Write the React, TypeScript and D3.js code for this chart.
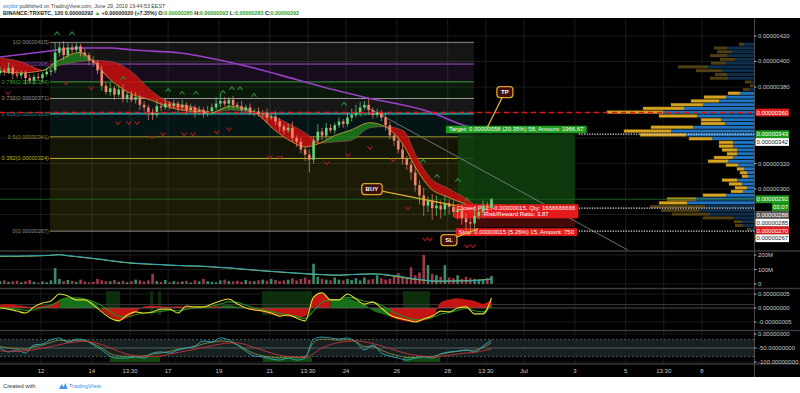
import React, { useEffect, useRef } from "react";
import * as d3 from "d3";

const FONT = "'Liberation Sans', Arial, sans-serif";

// prices in satoshi (1e-8 BTC), time in days from Jun 12 00:00
const candleStart = -1.61;
const candleStep = 1 / 6;
const firstOpen = 391;
const closes = [
  393, 392, 395, 390, 389, 391, 387, 385, 388, 387,
  390, 392, 393, 407, 411, 405, 411, 409, 412, 407,
  405, 401, 399, 393, 381, 376, 379, 374, 378, 371,
  374, 370, 372, 366, 364, 360, 358, 365, 364, 367,
  365, 367, 364, 366, 362, 364, 360, 362, 359, 361,
  364, 367, 369, 367, 370, 366, 365, 362, 364, 360,
  361, 359, 360, 356, 357, 353, 349, 346, 348, 340,
  337, 331, 327, 323, 338, 345, 342, 348, 346, 350,
  353, 351, 356, 358, 360, 364, 366, 362, 358, 360,
  356, 350, 342, 338, 331, 324, 319, 313, 303, 295,
  287, 291, 285, 287, 284, 289, 286, 282, 284, 277,
  274, 273, 279, 282, 287, 285, 292,
];
const wickUp = [
  3, 2, 4, 2, 3, 2, 2, 3, 2, 3, 2, 3, 2, 8, 4, 5, 4, 3, 3, 2,
  3, 2, 3, 2, 4, 3, 5, 2, 3, 4, 2, 3, 4, 2, 3, 2, 3, 5, 3, 4,
  2, 3, 2, 4, 2, 3, 2, 3, 2, 4, 3, 5, 6, 3, 2, 3, 2, 4, 2, 3,
  2, 3, 2, 3, 2, 4, 3, 2, 3, 5, 2, 3, 2, 4, 3, 6, 3, 4, 3, 2,
  3, 2, 4, 5, 6, 4, 3, 5, 2, 3, 2, 4, 3, 2, 3, 4, 2, 3, 5, 4,
  6, 3, 5, 8, 4, 6, 3, 5, 4, 3, 4, 3, 5, 3, 4, 3, 1,
];
const wickDn = [
  2, 3, 2, 4, 2, 3, 5, 2, 3, 2, 3, 2, 3, 2, 3, 4, 2, 3, 2, 3,
  2, 4, 3, 3, 4, 2, 3, 4, 2, 3, 3, 2, 3, 4, 3, 6, 4, 2, 3, 2,
  3, 2, 4, 2, 3, 2, 4, 2, 3, 2, 3, 2, 3, 2, 4, 3, 2, 3, 3, 2,
  3, 2, 3, 4, 2, 3, 4, 3, 2, 3, 4, 3, 5, 10, 3, 2, 4, 3, 2, 3,
  2, 3, 2, 3, 2, 3, 2, 4, 3, 2, 3, 4, 3, 4, 3, 5, 4, 6, 5, 7,
  8, 5, 9, 6, 7, 5, 6, 4, 6, 5, 7, 6, 4, 3, 4, 3, 2,
];
// volume in millions
const volumes = [
  20, 25, 15, 18, 22, 12, 20, 28, 15, 10, 18, 12, 25, 110, 35, 20, 28, 22, 15, 30,
  18, 12, 15, 35, 25, 20, 18, 28, 15, 22, 12, 20, 30, 25, 18, 25, 70, 20, 15, 28,
  12, 20, 15, 18, 22, 10, 25, 18, 35, 20, 15, 12, 25, 30, 20, 18, 22, 15, 28, 20,
  18, 25, 30, 22, 35, 28, 20, 25, 30, 40, 25, 35, 45, 30, 140, 50, 35, 30, 25, 45,
  30, 25, 35, 28, 40, 25, 45, 30, 35, 60, 40, 30, 35, 50, 75, 45, 40, 115, 60, 80,
  200, 130, 70, 60, 50, 130, 45, 40, 60, 35, 50, 40, 35, 30, 25, 40, 55,
];

const maDays = [-1.61, 0.35, 1.42, 2.71, 3.62, 5.47, 8.22, 10.11, 11.57, 12.67, 15.3, 16.6, 17.72];
const ma200 = [403.5, 408.2, 410.6, 410.6, 409, 406.7, 395.7, 385.5, 377.6, 372.2, 360.4, 350.2, 343.9];

const cloudDays = [
  -1.61, -0.83, 0.08, 0.55, 1.53, 2.01, 2.71, 3.62, 4.29, 5.07, 5.86, 6.73, 7.44, 8.42, 9.21,
  9.87, 10.39, 10.98, 11.57, 12.16, 12.94, 13.53, 14.24, 14.79, 15.3, 15.97, 16.6, 17.27, 17.74,
];
const fastMa = [
  392, 391, 393, 399, 407, 401, 386, 374, 370, 364, 361, 360, 365, 360, 346,
  337, 333, 336, 342, 346, 352, 349, 335, 315, 301, 294, 289, 285, 284,
];
const slowMa = [
  403, 400, 393, 396, 400, 401, 400, 391, 378, 368, 365, 360, 362, 360, 356,
  350, 344, 336, 337, 338, 348, 349, 346, 325, 309, 301, 294, 285, 282,
];

const fibRatios = ["1", "0.886", "0.786", "0.702", "0.618", "0.5", "0.382", "0"];
const fibPrices = [415, 398, 384, 371, 359, 341, 324, 267];
const fibColors = ["#8c8c8c", "#9b4ec6", "#3ba33b", "#9a9a9a", "#1f9090", "#8f8f2c", "#b8b826", "#8c8c8c"];
const fibDays = [0.35, 17.03];

const vpTop = 415;
const vpBottom = 267;
const vpBlue = [
  10, 27, 22, 27, 19, 28, 46, 32, 27, 26, 3, 1, 5, 14, 28, 35, 51, 70, 91, 57,
  33, 29, 61, 83, 68, 42, 21, 21, 17, 17, 21, 26, 16, 10, 7, 6, 17, 12, 7, 11,
  28, 58, 67, 49, 55, 44, 21, 12, 11, 4,
];
const vpOrange = [
  5, 13, 15, 17, 15, 15, 30, 26, 12, 18, 6, 3, 6, 12, 22, 28, 32, 41, 56, 38,
  20, 24, 42, 47, 46, 23, 14, 14, 15, 10, 19, 20, 12, 7, 7, 6, 15, 13, 12, 12,
  23, 29, 28, 55, 38, 38, 30, 8, 8, 3,
];
const vpValueArea = [13, 42];

const posDays = [16.4, 21.0];
const posEntry = 285;
const posTarget = 343;
const posStop = 270;
const targetText = "Target: 0.00000058 (20.35%) 58, Amount: 1966.67";
const closedText = ["Closed P&L: -0.00000015, Qty: 1666666666", "Risk/Reward Ratio: 3.87"];
const stopText = "Stop: 0.00000015 (5.26%) 15, Amount: 750";

const calloutText = ["BUY", "TP", "SL"];
const calloutDay = [13.02, 18.25, 16.05];
const calloutPrice = [300, 376, 260];
const calloutTipDay = [16.29, 17.55, 17.19];
const calloutTipPrice = [287, 348, 269];

const trendDays = [12.75, 23.1];
const trendPrices = [365, 252];
const redLinePrice = 360;
const dottedPrices = [343, 285, 267];
const lastPrice = 292;

const upDays = [0.63, 1.22, 3.23, 5.0, 5.55, 6.1, 7.16, 7.51, 7.83, 8.38, 11.92, 12.67, 15.03, 15.58, 16.4, 16.76];
const upPrices = [422, 422, 387, 377.6, 375.3, 375.3, 376, 379, 379, 373.7, 366.7, 358.8, 322, 310.2, 307, 292];
const dnDays = [-1.3, 0.98, 1.97, 3.03, 3.46, 3.78, 4.37, 4.8, 5.63, 5.98, 6.92, 7.4, 9.01, 9.4, 11.25, 12.08, 12.94, 13.85, 14.44, 15.11, 15.3, 16.76, 17.0];
const dnPrices = [375.3, 383.1, 379.2, 351.8, 351.8, 351.8, 340.8, 343.1, 343.1, 343.1, 344.7, 347, 325.1, 325.1, 320.4, 326.7, 332.2, 322.7, 285.1, 260.8, 260.8, 255.3, 255.3];

const priceTicks = [420, 400, 380, 360, 340, 320, 300, 280];
const timeTickDays = [0, 2, 3.5, 5, 7, 9, 10.5, 12, 14, 16, 17.5, 19, 21, 23, 24.5, 26];
const timeTickLabels = ["12", "14", "13:30", "17", "19", "21", "13:30", "24", "26", "28", "13:30", "Jul", "3", "5", "13:30", "8"];

const axisBoxPrices = [360, 343, 342, 292, 292, 288, 285, 270, 267];
const axisBoxTexts = ["", "", "", "", "03:07", "", "", "", ""];
const axisBoxBg = ["#e31c1c", "#1c9a1c", "#ffffff", "#1c9a1c", "#1c9a1c", "#555555", "#ffffff", "#e31c1c", "#ffffff"];
const axisBoxFg = ["#fff", "#fff", "#222", "#fff", "#fff", "#fff", "#222", "#fff", "#222"];

// indicator panes sampled every 8 hours
const indStart = -1.61;
const indStep = 1 / 3;
const volLineA = [
  193, 193, 193, 194, 195, 196, 199, 201, 196, 190, 184, 177, 171, 162, 155, 148, 144, 140, 137, 134,
  131, 128, 126, 125, 123, 119, 115, 112, 107, 102, 97, 92, 88, 84, 80, 76, 72, 69, 66, 63,
  62, 64, 66, 67, 68, 68, 62, 55, 45, 35, 28, 22, 21, 21, 21, 21, 23, 27, 32,
];
const volLineB = [
  190, 191, 190, 192, 193, 195, 197, 203, 194, 188, 181, 175, 168, 160, 152, 146, 141, 138, 135, 133,
  129, 127, 125, 123, 121, 117, 113, 110, 105, 100, 95, 90, 86, 82, 78, 74, 70, 66, 64, 61,
  60, 63, 67, 69, 70, 66, 58, 50, 40, 32, 26, 20, 19, 20, 22, 22, 25, 29, 35,
];
// MACD in 1e-9
const macdLine = [
  0, -4, -11, -18, 4, 18, 25, 50, 43, 29, 29, 11, -14, -36, -46, -25, -14, -18, -14, -4,
  -4, -18, 7, 4, 4, 14, 25, 32, 14, 0, -7, -11, -18, -29, -25, -36, -46, 39, 54, 29,
  29, 50, 32, 14, 21, 0, -25, -36, -43, -50, -39, -29, -11, -14, 0, 4, -21, -21, 36,
];
const signalLine = [
  2, 0, -4, -8, -6, 2, 10, 25, 35, 36, 32, 22, 8, -12, -30, -32, -24, -18, -16, -12,
  -8, -10, -4, 0, 2, 6, 14, 22, 20, 10, 0, -6, -12, -20, -24, -30, -38, -10, 20, 30,
  30, 38, 34, 24, 20, 10, -8, -22, -34, -42, -40, -34, -22, -16, -8, -2, -10, -14, 10,
];
const macdHist = [
  12, 14, 10, 6, 4, 8, 10, 30, 38, 32, 28, 20, -10, -30, -45, -35, -15, 5, 8, 6,
  4, 6, 4, 4, 4, 4, 8, 10, 5, 0, -8, -14, -22, -26, -30, -34, -30, 40, 50, 30,
  30, 35, 25, 15, -10, -20, -30, -42, -48, -50, -45, -35, 20, 30, 35, 30, 25, 15, 30,
];
const histColors = "rrrrrrrgggggrrrrrrrrrrrrrrgggrrrrrrrrrrgggggggrrrrrrrrrrrrr";
const macdShadeFrom = [2.56, 4.29, 4.6, 8.69, 14.24];
const macdShadeTo = [3.11, 4.41, 4.72, 10.66, 15.3];

const rsiFast = [
  -50, -64, -57, -68, -39, -36, -21, -14, -29, -18, -21, -39, -57, -79, -86, -86, -82, -86, -68, -64,
  -68, -57, -50, -43, -25, -29, -14, -21, -39, -61, -79, -82, -89, -93, -86, -93, -86, -18, -11, -14,
  -18, -14, -29, -57, -39, -68, -79, -86, -93, -86, -82, -86, -71, -64, -61, -57, -64, -43, -21,
];
const rsiSlow = [
  -45, -50, -52, -55, -45, -40, -30, -22, -25, -24, -25, -35, -50, -70, -78, -80, -80, -78, -72, -68,
  -62, -55, -50, -45, -35, -30, -25, -28, -38, -55, -70, -78, -82, -85, -82, -84, -80, -30, -18, -20,
  -22, -20, -28, -45, -45, -58, -70, -78, -84, -84, -80, -80, -72, -66, -62, -58, -58, -48, -30,
];
const rsiSignal = [
  -60, -62, -62, -60, -56, -50, -45, -38, -32, -28, -26, -30, -38, -50, -62, -72, -78, -80, -80, -78,
  -72, -66, -60, -54, -48, -42, -36, -32, -32, -38, -48, -58, -68, -76, -80, -82, -84, -70, -50, -38,
  -30, -26, -24, -28, -34, -42, -52, -62, -70, -76, -80, -82, -80, -76, -72, -68, -66, -60, -54,
];
const rsiShadeFrom = [2.71, 8.73, 14.24];
const rsiShadeTo = [4.68, 10.66, 15.7];

const fmt = (v: number) => (v / 1e8).toFixed(8);

export default function App() {
  const ref = useRef<SVGSVGElement>(null);

  useEffect(() => {
    const svg = d3.select(ref.current);
    svg.selectAll("*").remove();

    const axisX = 754;
    const x = d3.scaleLinear().domain([-1.613, 28.05]).range([0, axisX]);
    const y = d3.scaleLinear().domain([252.2, 434.1]).range([250, 18]);
    const volY = d3.scaleLinear().domain([0, 200]).range([284, 255]);
    const macdY = d3.scaleLinear().domain([-50, 50]).range([322, 294]);
    const rsiY = d3.scaleLinear().domain([-100, 0]).range([362, 334]);
    const vpX = d3.scaleLinear().domain([0, 150]).range([axisX, axisX - 150]);

    svg.append("rect").attr("width", 800).attr("height", 393).attr("fill", "#fff");
    svg.append("rect").attr("y", 18).attr("width", 800).attr("height", 359).attr("fill", "#000");

    const defs = svg.append("defs");
    const clip = (id: string, top: number, bottom: number) =>
      defs.append("clipPath").attr("id", id).append("rect")
        .attr("x", 0).attr("y", top).attr("width", axisX).attr("height", bottom - top);
    clip("cMain", 18, 250);
    clip("cVol", 252, 288);
    clip("cMacd", 289, 330);
    clip("cRsi", 331, 364);

    // grid
    const grid = svg.append("g").attr("stroke", "#1b1b1b").attr("stroke-width", 1);
    timeTickDays.forEach(d => {
      grid.append("line").attr("x1", x(d)).attr("x2", x(d)).attr("y1", 18).attr("y2", 364);
    });
    priceTicks.forEach(p => {
      grid.append("line").attr("x1", 0).attr("x2", axisX).attr("y1", y(p)).attr("y2", y(p));
    });
    [0, 100, 200].forEach(v => grid.append("line").attr("x1", 0).attr("x2", axisX).attr("y1", volY(v)).attr("y2", volY(v)));
    [-50, 50].forEach(v => grid.append("line").attr("x1", 0).attr("x2", axisX).attr("y1", macdY(v)).attr("y2", macdY(v)));
    [-100, 0].forEach(v => grid.append("line").attr("x1", 0).attr("x2", axisX).attr("y1", rsiY(v)).attr("y2", rsiY(v)));

    const main = svg.append("g").attr("clip-path", "url(#cMain)");

    // fib retracement
    const fx0 = x(fibDays[0]);
    const fx1 = x(fibDays[1]);
    for (let i = 0; i < fibPrices.length - 1; i++) {
      main.append("rect").attr("x", fx0).attr("width", fx1 - fx0)
        .attr("y", y(fibPrices[i])).attr("height", y(fibPrices[i + 1]) - y(fibPrices[i]))
        .attr("fill", fibColors[i]).attr("opacity", 0.15);
    }

    // volume profile
    const rowH = (vpTop - vpBottom) / vpBlue.length;
    vpBlue.forEach((b, i) => {
      const bright = i >= vpValueArea[0] && i <= vpValueArea[1];
      const y0 = y(vpTop - i * rowH) + 0.4;
      const h = y(vpTop - (i + 1) * rowH) - y(vpTop - i * rowH) - 0.8;
      main.append("rect").attr("x", vpX(b)).attr("width", axisX - vpX(b)).attr("y", y0).attr("height", h)
        .attr("fill", bright ? "#1f74c2" : "#0e2f4d");
      main.append("rect").attr("x", vpX(b + vpOrange[i])).attr("width", vpX(b) - vpX(b + vpOrange[i]))
        .attr("y", y0).attr("height", h)
        .attr("fill", bright ? "#d6a323" : "#4f3f12").attr("stroke", bright ? "#8a6a12" : "none").attr("stroke-width", 0.4);
    });

    fibPrices.forEach((p, i) => {
      main.append("line").attr("x1", fx0).attr("x2", fx1).attr("y1", y(p)).attr("y2", y(p))
        .attr("stroke", fibColors[i]).attr("stroke-width", fibRatios[i] === "0.618" ? 2 : 1);
      main.append("text").attr("x", fx0 - 1).attr("y", y(p) + 2).attr("text-anchor", "end")
        .attr("font-family", FONT).attr("font-size", 5.6).attr("fill", fibColors[i])
        .text(`${fibRatios[i]}(${fmt(p)})`);
    });

    // long position zones
    const px0 = x(posDays[0]);
    const px1 = x(posDays[1]);
    main.append("rect").attr("x", px0).attr("width", px1 - px0).attr("y", y(posTarget))
      .attr("height", y(posEntry) - y(posTarget)).attr("fill", "#0e420e").attr("opacity", 0.85);
    main.append("rect").attr("x", px0).attr("width", px1 - px0).attr("y", y(posEntry))
      .attr("height", y(posStop) - y(posEntry)).attr("fill", "#4a0b0b").attr("opacity", 0.9);

    // last price line
    main.append("line").attr("x1", 0).attr("x2", axisX).attr("y1", y(lastPrice)).attr("y2", y(lastPrice))
      .attr("stroke", "#1c5a1c").attr("stroke-width", 1);

    // long MA
    main.append("path").datum(maDays.map((d, i) => [d, ma200[i]]))
      .attr("fill", "none").attr("stroke", "#9b3fc6").attr("stroke-width", 1.6)
      .attr("d", d3.line<number[]>().x(p => x(p[0])).y(p => y(p[1])).curve(d3.curveMonotoneX));

    // MA cloud, split at crossings
    type Seg = { pos: boolean; pts: number[][] };
    const segs: Seg[] = [];
    let cur: Seg | null = null;
    for (let i = 0; i < cloudDays.length; i++) {
      const d = fastMa[i] - slowMa[i];
      const pos = d > 0 ? true : d < 0 ? false : cur ? cur.pos : false;
      if (!cur) {
        cur = { pos, pts: [] };
        segs.push(cur);
      } else if (pos !== cur.pos) {
        const j = i - 1;
        const d0 = fastMa[j] - slowMa[j];
        const t = d0 / (d0 - d);
        const cd = cloudDays[j] + t * (cloudDays[i] - cloudDays[j]);
        const cp = fastMa[j] + t * (fastMa[i] - fastMa[j]);
        cur.pts.push([cd, cp, cp]);
        cur = { pos, pts: [[cd, cp, cp]] };
        segs.push(cur);
      }
      cur.pts.push([cloudDays[i], fastMa[i], slowMa[i]]);
    }
    const cloudArea = d3.area<number[]>().x(p => x(p[0])).y0(p => y(p[1])).y1(p => y(p[2])).curve(d3.curveMonotoneX);
    segs.forEach(s => {
      main.append("path").attr("d", cloudArea(s.pts)).attr("fill", s.pos ? "#1b7a1b" : "#c40f0f").attr("opacity", 0.88);
    });
    const maLine = (vals: number[]) =>
      d3.line<number>().x((_, i) => x(cloudDays[i])).y(v => y(v)).curve(d3.curveMonotoneX)(vals);
    main.append("path").attr("d", maLine(slowMa)).attr("fill", "none").attr("stroke", "#9c5a5a").attr("stroke-width", 0.6);
    main.append("path").attr("d", maLine(fastMa)).attr("fill", "none").attr("stroke", "#d9a441").attr("stroke-width", 0.8);

    // trend line
    main.append("line").attr("x1", x(trendDays[0])).attr("y1", y(trendPrices[0]))
      .attr("x2", x(trendDays[1])).attr("y2", y(trendPrices[1])).attr("stroke", "#8a8a8a").attr("stroke-width", 0.8);

    // position labels
    const pcx = (px0 + px1) / 2;
    const labelBox = (lines: string[], top: number, bg: string) => {
      const g = main.append("g");
      const rect = g.append("rect").attr("fill", bg).attr("rx", 1);
      let w = 0;
      lines.forEach((t, i) => {
        const tx = g.append("text").attr("x", pcx).attr("y", top + 5.6 + i * 6.6).attr("text-anchor", "middle")
          .attr("font-family", FONT).attr("font-size", 6).attr("fill", "#fff").text(t);
        w = Math.max(w, (tx.node() as SVGTextElement).getComputedTextLength());
      });
      rect.attr("x", pcx - w / 2 - 3).attr("width", w + 6).attr("y", top).attr("height", lines.length * 6.6 + 1);
    };
    labelBox([targetText], y(posTarget) - 8.5, "#1e9e1e");
    labelBox(closedText, y(posEntry) - 4, "#e31b1b");
    labelBox([stopText], y(posStop) + 1, "#e31b1b");

    // candles
    const bw = 2.6;
    closes.forEach((c, i) => {
      const o = i === 0 ? firstOpen : closes[i - 1];
      const hi = Math.max(o, c) + wickUp[i];
      const lo = Math.min(o, c) - wickDn[i];
      const cx = x(candleStart + i * candleStep);
      const col = c >= o ? "#66d477" : "#f2856a";
      main.append("line").attr("x1", cx).attr("x2", cx).attr("y1", y(hi)).attr("y2", y(lo))
        .attr("stroke", col).attr("stroke-width", 0.7);
      main.append("rect").attr("x", cx - bw / 2).attr("width", bw)
        .attr("y", y(Math.max(o, c))).attr("height", Math.max(0.8, Math.abs(y(o) - y(c))))
        .attr("fill", col);
    });

    // signal chevrons
    upDays.forEach((d, i) => {
      const cx = x(d), cy = y(upPrices[i]);
      main.append("path").attr("d", `M${cx - 2.5},${cy + 1.5}L${cx},${cy - 1.5}L${cx + 2.5},${cy + 1.5}`)
        .attr("fill", "none").attr("stroke", "#2a8a3a").attr("stroke-width", 1.1);
    });
    dnDays.forEach((d, i) => {
      const cx = x(d), cy = y(dnPrices[i]);
      main.append("path").attr("d", `M${cx - 2.5},${cy - 1.5}L${cx},${cy + 1.5}L${cx + 2.5},${cy - 1.5}`)
        .attr("fill", "none").attr("stroke", "#a81c1c").attr("stroke-width", 1.1);
    });

    // horizontal lines
    main.append("line").attr("x1", 0).attr("x2", axisX).attr("y1", y(redLinePrice)).attr("y2", y(redLinePrice))
      .attr("stroke", "#e41414").attr("stroke-width", 1.4).attr("stroke-dasharray", "5,4");
    dottedPrices.forEach(p => {
      main.append("line").attr("x1", px1 + 4).attr("x2", axisX).attr("y1", y(p)).attr("y2", y(p))
        .attr("stroke", "#dcdcdc").attr("stroke-width", 1.3).attr("stroke-dasharray", "1.3,1.3");
    });

    // callouts
    calloutText.forEach((t, i) => {
      const bx = x(calloutDay[i]), by = y(calloutPrice[i]);
      main.append("line").attr("x1", bx).attr("y1", by).attr("x2", x(calloutTipDay[i])).attr("y2", y(calloutTipPrice[i]))
        .attr("stroke", "#dcb032").attr("stroke-width", 1.3);
      const w = t.length * 4.5 + 7;
      main.append("rect").attr("x", bx - w / 2).attr("y", by - 5.5).attr("width", w).attr("height", 11).attr("rx", 3)
        .attr("fill", "#3d0e0e").attr("stroke", "#d9a52a").attr("stroke-width", 1.3);
      main.append("text").attr("x", bx).attr("y", by + 2.2).attr("text-anchor", "middle")
        .attr("font-family", FONT).attr("font-size", 6).attr("font-weight", "bold").attr("fill", "#fff").text(t);
    });

    // volume pane
    const vol = svg.append("g").attr("clip-path", "url(#cVol)");
    volumes.forEach((v, i) => {
      const o = i === 0 ? firstOpen : closes[i - 1];
      const cx = x(candleStart + i * candleStep);
      vol.append("rect").attr("x", cx - bw / 2).attr("width", bw).attr("y", volY(v)).attr("height", volY(0) - volY(v))
        .attr("fill", closes[i] >= o ? "#3c8a6a" : "#9a3a4a");
    });
    const indLine = (sc: d3.ScaleLinear<number, number>) =>
      d3.line<number>().x((_, k) => x(indStart + k * indStep)).y(v => sc(v)).curve(d3.curveMonotoneX);
    vol.append("path").attr("d", indLine(volY)(volLineB)).attr("fill", "none").attr("stroke", "#a9c832").attr("stroke-width", 1);
    vol.append("path").attr("d", indLine(volY)(volLineA)).attr("fill", "none").attr("stroke", "#27a3c4").attr("stroke-width", 1);

    // MACD pane
    const macd = svg.append("g").attr("clip-path", "url(#cMacd)");
    macdShadeFrom.forEach((d, i) => {
      macd.append("rect").attr("x", x(d)).attr("width", x(macdShadeTo[i]) - x(d)).attr("y", macdY(60))
        .attr("height", macdY(-25) - macdY(60)).attr("fill", "#0f3a0f").attr("opacity", 0.8);
    });
    macd.append("line").attr("x1", 0).attr("x2", axisX).attr("y1", macdY(12)).attr("y2", macdY(12)).attr("stroke", "#3a3a3a");
    const histArea = d3.area<number>().x(k => x(indStart + k * indStep)).y0(macdY(0)).y1(k => macdY(macdHist[k])).curve(d3.curveMonotoneX);
    let runStart = 0;
    for (let k = 1; k <= macdHist.length; k++) {
      if (k === macdHist.length || histColors[k] !== histColors[runStart]) {
        const ks = d3.range(runStart, Math.min(k + 1, macdHist.length));
        macd.append("path").attr("d", histArea(ks)).attr("fill", histColors[runStart] === "g" ? "#17701a" : "#c41414");
        runStart = k;
      }
    }
    macd.append("line").attr("x1", 0).attr("x2", axisX).attr("y1", macdY(0)).attr("y2", macdY(0)).attr("stroke", "#666").attr("stroke-width", 0.8);
    macd.append("path").attr("d", indLine(macdY)(signalLine)).attr("fill", "none").attr("stroke", "#1f8f22").attr("stroke-width", 1.1);
    macd.append("path").attr("d", indLine(macdY)(macdLine)).attr("fill", "none").attr("stroke", "#e4e02a").attr("stroke-width", 1.1);

    // oscillator pane
    const rsi = svg.append("g").attr("clip-path", "url(#cRsi)");
    rsi.append("rect").attr("x", 0).attr("width", axisX).attr("y", rsiY(-20)).attr("height", rsiY(-80) - rsiY(-20))
      .attr("fill", "#1c2828").attr("opacity", 0.8);
    rsiShadeFrom.forEach((d, i) => {
      rsi.append("rect").attr("x", x(d)).attr("width", x(rsiShadeTo[i]) - x(d)).attr("y", rsiY(-80))
        .attr("height", rsiY(-100) - rsiY(-80)).attr("fill", "#145214").attr("opacity", 0.85);
    });
    [-20, -80].forEach(v => rsi.append("line").attr("x1", 0).attr("x2", axisX).attr("y1", rsiY(v)).attr("y2", rsiY(v))
      .attr("stroke", "#4c5c5c").attr("stroke-dasharray", "2,2"));
    rsi.append("line").attr("x1", 0).attr("x2", axisX).attr("y1", rsiY(-50)).attr("y2", rsiY(-50)).attr("stroke", "#556060");
    rsi.append("path").attr("d", indLine(rsiY)(rsiSlow)).attr("fill", "none").attr("stroke", "#8f8a3e").attr("stroke-width", 0.9);
    rsi.append("path").attr("d", indLine(rsiY)(rsiFast)).attr("fill", "none").attr("stroke", "#2bb0c2").attr("stroke-width", 0.9);
    rsi.append("path").attr("d", indLine(rsiY)(rsiSignal)).attr("fill", "none").attr("stroke", "#c8323c").attr("stroke-width", 0.9);

    // pane separators and axis border
    [251, 288.5, 330.5, 364].forEach(v => svg.append("line").attr("x1", 0).attr("x2", 800).attr("y1", v).attr("y2", v)
      .attr("stroke", "#3a3a3a").attr("stroke-width", 1.6));
    svg.append("line").attr("x1", axisX + 0.5).attr("x2", axisX + 0.5).attr("y1", 18).attr("y2", 377).attr("stroke", "#4a4a4a");

    // price boxes with collision stacking
    const boxY: number[] = [];
    let prevY = -100;
    axisBoxPrices.forEach(p => {
      let yy = y(p);
      if (yy < prevY + 7.8) yy = prevY + 7.8;
      prevY = yy;
      boxY.push(yy);
    });

    // right axis labels
    const axisText = (txt: string, yy: number) => {
      svg.append("line").attr("x1", axisX).attr("x2", axisX + 2.5).attr("y1", yy).attr("y2", yy).attr("stroke", "#aaa");
      svg.append("text").attr("x", axisX + 4).attr("y", yy + 2).attr("font-family", FONT).attr("font-size", 6)
        .attr("fill", "#c8c8c8").text(txt);
    };
    priceTicks.forEach(p => {
      const yy = y(p);
      if (boxY.every(b => Math.abs(b - yy) > 7.5)) axisText(fmt(p), yy);
    });
    [[200, "200M"], [100, "100M"], [0, "0"]].forEach(([v, t]) => axisText(t as string, volY(v as number)));
    [[50, "0.00000005"], [0, "0.00000000"], [-50, "-0.00000005"]].forEach(([v, t]) => axisText(t as string, macdY(v as number)));
    [[0, "0.00000000"], [-50, "-50.00000000"], [-100, "-100.00000000"]].forEach(([v, t]) => axisText(t as string, rsiY(v as number)));

    axisBoxPrices.forEach((p, i) => {
      const yy = boxY[i];
      const short = axisBoxTexts[i] !== "";
      const bx0 = short ? 772 : axisX + 1.5;
      svg.append("rect").attr("x", bx0).attr("width", 789 - bx0).attr("y", yy - 3.9).attr("height", 7.8)
        .attr("fill", axisBoxBg[i]);
      svg.append("text").attr("x", (bx0 + 789) / 2).attr("y", yy + 2.1).attr("text-anchor", "middle")
        .attr("font-family", FONT).attr("font-size", 6).attr("fill", axisBoxFg[i])
        .text(short ? axisBoxTexts[i] : fmt(p));
    });

    // time axis
    timeTickDays.forEach((d, i) => {
      svg.append("text").attr("x", x(d)).attr("y", 372.5).attr("text-anchor", "middle")
        .attr("font-family", FONT).attr("font-size", 6).attr("fill", "#c8c8c8").text(timeTickLabels[i]);
    });

    // header
    const h1 = svg.append("text").attr("x", 3).attr("y", 7.5).attr("font-family", FONT).attr("font-size", 5.3).attr("fill", "#444");
    h1.append("tspan").attr("fill", "#2a7fd6").text("oxybiz");
    h1.append("tspan").text(" published on TradingView.com, June 29, 2019 19:44:53 EEST");
    const h2 = svg.append("text").attr("x", 3).attr("y", 14.8).attr("font-family", FONT).attr("font-size", 5.4)
      .attr("font-weight", "bold").attr("fill", "#222");
    const green = "#1fa31f";
    const parts: [string, string][] = [
      ["BINANCE:TRXBTC, 120 0.00000292 ", "#222"], ["\u25B2", green], [" +0.00000020 (+7.35%) O:", "#222"],
      ["0.00000285", green], [" H:", "#222"], ["0.00000293", green], [" L:", "#222"], ["0.00000283", green],
      [" C:", "#222"], ["0.00000292", green],
    ];
    parts.forEach(([t, c]) => h2.append("tspan").attr("fill", c).text(t));

    // footer
    svg.append("text").attr("x", 3).attr("y", 388).attr("font-family", FONT).attr("font-size", 5.8).attr("fill", "#333").text("Created with");
    svg.append("path").attr("d", "M59,389 l2.5,-5 l2,3 l2,-4 l2,6 z").attr("fill", "#3d9be9");
    svg.append("text").attr("x", 69).attr("y", 388).attr("font-family", FONT).attr("font-size", 5.8).attr("fill", "#3d8fe0").text("TradingView");
  }, []);

  return <svg ref={ref} width={800} height={393} style={{ position: "absolute", left: 0, top: 0 }} />;
}
